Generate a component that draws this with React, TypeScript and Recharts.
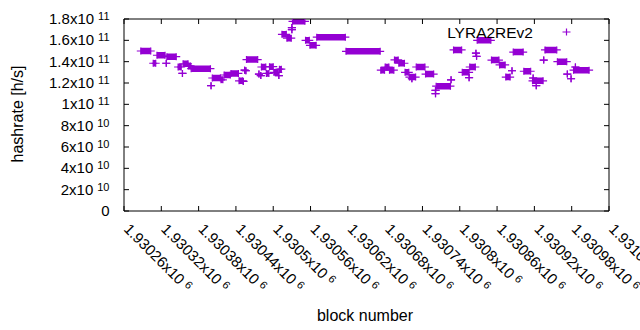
import React from 'react';
import { ComposedChart, Line, XAxis, YAxis, Legend, Label } from 'recharts';

// Runs of consecutive blocks that share one hashrate estimate (start block, end block, hashrate h/s)
const runStartBlock = [
  1930287, 1930307, 1930313, 1930328, 1930329, 1930347, 1930354, 1930355, 1930364, 1930368,
  1930400, 1930402, 1930416, 1930421, 1930432, 1930445, 1930452, 1930454, 1930456, 1930457,
  1930477, 1930480, 1930481, 1930489, 1930494, 1930501, 1930509, 1930510, 1930514, 1930522,
  1930530, 1930530, 1930531, 1930552, 1930559, 1930570, 1930617, 1930673, 1930680, 1930687,
  1930695, 1930702, 1930712, 1930719, 1930723, 1930730, 1930745, 1930761, 1930761, 1930762,
  1930786, 1930790, 1930804, 1930815, 1930816, 1930826, 1930827, 1930828, 1930851, 1930864,
  1930874, 1930884, 1930886, 1930903, 1930917, 1930918, 1930923, 1930935, 1930937, 1930957,
  1930973, 1930979, 1930983, 1930986,
];
const runEndBlock = [
  1930303, 1930311, 1930326, 1930328, 1930344, 1930352, 1930354, 1930363, 1930367, 1930399,
  1930400, 1930415, 1930419, 1930431, 1930444, 1930451, 1930452, 1930454, 1930456, 1930475,
  1930477, 1930480, 1930488, 1930493, 1930500, 1930508, 1930509, 1930513, 1930521, 1930529,
  1930530, 1930530, 1930551, 1930558, 1930569, 1930616, 1930672, 1930679, 1930686, 1930694,
  1930701, 1930711, 1930718, 1930729, 1930723, 1930744, 1930758, 1930761, 1930761, 1930785,
  1930786, 1930803, 1930815, 1930815, 1930825, 1930826, 1930827, 1930850, 1930863, 1930873,
  1930881, 1930884, 1930902, 1930914, 1930934, 1930918, 1930923, 1930935, 1930956, 1930972,
  1930973, 1930979, 1931008, 1930986,
];
const runHashrate = [
  150.0e9, 138.5e9, 146.0e9, 138.5e9, 144.7e9, 135.0e9, 129.0e9, 138.0e9, 136.0e9, 133.4e9,
  117.5e9, 124.7e9, 123.0e9, 127.5e9, 129.0e9, 122.0e9, 121.5e9, 132.0e9, 131.5e9, 142.0e9,
  128.4e9, 127.0e9, 135.0e9, 129.0e9, 135.3e9, 130.0e9, 127.0e9, 133.0e9, 165.6e9, 162.0e9,
  172.0e9, 170.0e9, 177.8e9, 160.0e9, 155.3e9, 163.0e9, 149.7e9, 132.0e9, 135.0e9, 132.0e9,
  141.6e9, 138.5e9, 130.0e9, 125.6e9, 124.0e9, 135.0e9, 128.4e9, 113.0e9, 110.0e9, 117.0e9,
  123.0e9, 151.0e9, 130.0e9, 125.0e9, 135.0e9, 148.0e9, 145.0e9, 160.0e9, 141.5e9, 136.9e9,
  125.6e9, 131.5e9, 149.0e9, 131.0e9, 122.0e9, 124.7e9, 117.5e9, 141.5e9, 151.0e9, 140.0e9,
  128.4e9, 124.0e9, 132.0e9, 135.0e9,
];

const seriesName = 'LYRA2REv2';

const xTickValues = [
  1930260, 1930320, 1930380, 1930440, 1930500, 1930560, 1930620,
  1930680, 1930740, 1930800, 1930860, 1930920, 1930980, 1931040,
];
const xTickMantissas = [
  '1.93026', '1.93032', '1.93038', '1.93044', '1.9305', '1.93056', '1.93062',
  '1.93068', '1.93074', '1.9308', '1.93086', '1.93092', '1.93098', '1.93104',
];
const xTickExponent = '6';

const yTickValues = [0, 2e10, 4e10, 6e10, 8e10, 1e11, 1.2e11, 1.4e11, 1.6e11, 1.8e11];
const yTickMantissas = ['0', '2', '4', '6', '8', '1', '1.2', '1.4', '1.6', '1.8'];
const yTickExponents = ['', '10', '10', '10', '10', '11', '11', '11', '11', '11'];

const COLOR = '#9400d3';
const FONT = '"Liberation Sans", Arial, sans-serif';

const lineData = runStartBlock.flatMap((s, i) => [
  { block: s, hashrate: runHashrate[i] },
  { block: runEndBlock[i], hashrate: runHashrate[i] },
  { block: runEndBlock[i], hashrate: null },
]);

const crossPath = (cx: number, cy: number) =>
  `M${cx - 4},${cy}H${cx + 4}M${cx},${cy - 3.5}V${cy + 3.5}`;

const renderDot = (props: any) => {
  const { cx, cy, index, payload } = props;
  if (cx == null || cy == null || payload == null || payload.hashrate == null) {
    return <g key={`d${index}`} />;
  }
  return <path key={`d${index}`} d={crossPath(cx, cy)} stroke={COLOR} strokeWidth={1.2} fill="none" />;
};

const BottomTick = (props: any) => {
  const { x, y, payload } = props;
  const i = xTickValues.indexOf(payload.value);
  const ax = x - 1;
  const ay = y + 19;
  return (
    <g>
      <line x1={x} y1={y} x2={x} y2={y - 5} stroke="#000" strokeWidth={1} />
      <text
        x={ax}
        y={ay}
        transform={`rotate(45 ${ax} ${ay})`}
        textAnchor="start"
        fontFamily={FONT}
        fontSize={15}
        fill="#000"
      >
        <tspan>{xTickMantissas[i]}x10</tspan>
        <tspan dx={4} dy={-4} fontSize={11}>{xTickExponent}</tspan>
      </text>
    </g>
  );
};

const TopTick = (props: any) => {
  const { x, y } = props;
  return <line x1={x} y1={y} x2={x} y2={y + 5} stroke="#000" strokeWidth={1} />;
};

const LeftTick = (props: any) => {
  const { x, y, payload } = props;
  const i = yTickValues.indexOf(payload.value);
  const exp = yTickExponents[i];
  return (
    <g>
      <line x1={x} y1={y} x2={x + 5} y2={y} stroke="#000" strokeWidth={1} />
      <text x={x - 14.5} y={y + 5} textAnchor="end" fontFamily={FONT} fontSize={15} fill="#000">
        {exp ? (
          <>
            <tspan>{yTickMantissas[i]}x10</tspan>
            <tspan dx={4} dy={-4} fontSize={11}>{exp}</tspan>
          </>
        ) : (
          <tspan>{yTickMantissas[i]}</tspan>
        )}
      </text>
    </g>
  );
};

const RightTick = (props: any) => {
  const { x, y } = props;
  return <line x1={x} y1={y} x2={x - 5} y2={y} stroke="#000" strokeWidth={1} />;
};

const LegendContent = () => (
  <svg width={640} height={50} style={{ display: 'block' }}>
    <text x={533} y={37.5} textAnchor="end" fontFamily={FONT} fontSize={15.5} fill="#000">
      {seriesName}
    </text>
    <path d={crossPath(566.5, 32)} stroke={COLOR} strokeWidth={1.2} fill="none" />
  </svg>
);

export default function App() {
  return (
    <div style={{ position: 'absolute', left: 0, top: 0, width: 640, height: 330, background: '#fff' }}>
      <ComposedChart
        width={640}
        height={330}
        data={lineData}
        margin={{ top: 0, right: 0, bottom: 0, left: 0 }}
      >
        <XAxis
          xAxisId="bottom"
          orientation="bottom"
          dataKey="block"
          type="number"
          domain={[1930260, 1931040]}
          allowDataOverflow
          ticks={xTickValues}
          interval={0}
          height={119}
          tickLine={false}
          tickSize={0}
          tickMargin={0}
          axisLine={{ stroke: '#000', strokeWidth: 1 }}
          tick={<BottomTick />}
        >
          <Label
            content={() => (
              <text x={365} y={321} textAnchor="middle" fontFamily={FONT} fontSize={16} fill="#000">
                block number
              </text>
            )}
          />
        </XAxis>
        <XAxis
          xAxisId="top"
          orientation="top"
          dataKey="block"
          type="number"
          domain={[1930260, 1931040]}
          allowDataOverflow
          ticks={xTickValues}
          interval={0}
          height={19}
          tickLine={false}
          tickSize={0}
          tickMargin={0}
          axisLine={{ stroke: '#000', strokeWidth: 1 }}
          tick={<TopTick />}
        />
        <YAxis
          yAxisId="left"
          orientation="left"
          type="number"
          domain={[0, 1.8e11]}
          allowDataOverflow
          ticks={yTickValues}
          interval={0}
          width={124}
          tickLine={false}
          tickSize={0}
          tickMargin={0}
          axisLine={{ stroke: '#000', strokeWidth: 1 }}
          tick={<LeftTick />}
        >
          <Label
            content={() => (
              <text
                x={17}
                y={114}
                transform="rotate(-90 17 114)"
                textAnchor="middle"
                dominantBaseline="central"
                fontFamily={FONT}
                fontSize={16}
                fill="#000"
              >
                hashrate [h/s]
              </text>
            )}
          />
        </YAxis>
        <YAxis
          yAxisId="right"
          orientation="right"
          type="number"
          domain={[0, 1.8e11]}
          allowDataOverflow
          ticks={yTickValues}
          interval={0}
          width={31}
          tickLine={false}
          tickSize={0}
          tickMargin={0}
          axisLine={{ stroke: '#000', strokeWidth: 1 }}
          tick={<RightTick />}
        />
        <Legend
          layout="horizontal"
          verticalAlign="middle"
          align="center"
          content={<LegendContent />}
          wrapperStyle={{ position: 'absolute', left: 0, top: 0, width: 640, height: 50, pointerEvents: 'none' }}
        />
        <Line
          xAxisId="bottom"
          yAxisId="left"
          name={seriesName}
          dataKey="hashrate"
          stroke={COLOR}
          strokeWidth={6.5}
          connectNulls={false}
          dot={renderDot}
          activeDot={false}
          isAnimationActive={false}
          legendType="plus"
        />
      </ComposedChart>
    </div>
  );
}
